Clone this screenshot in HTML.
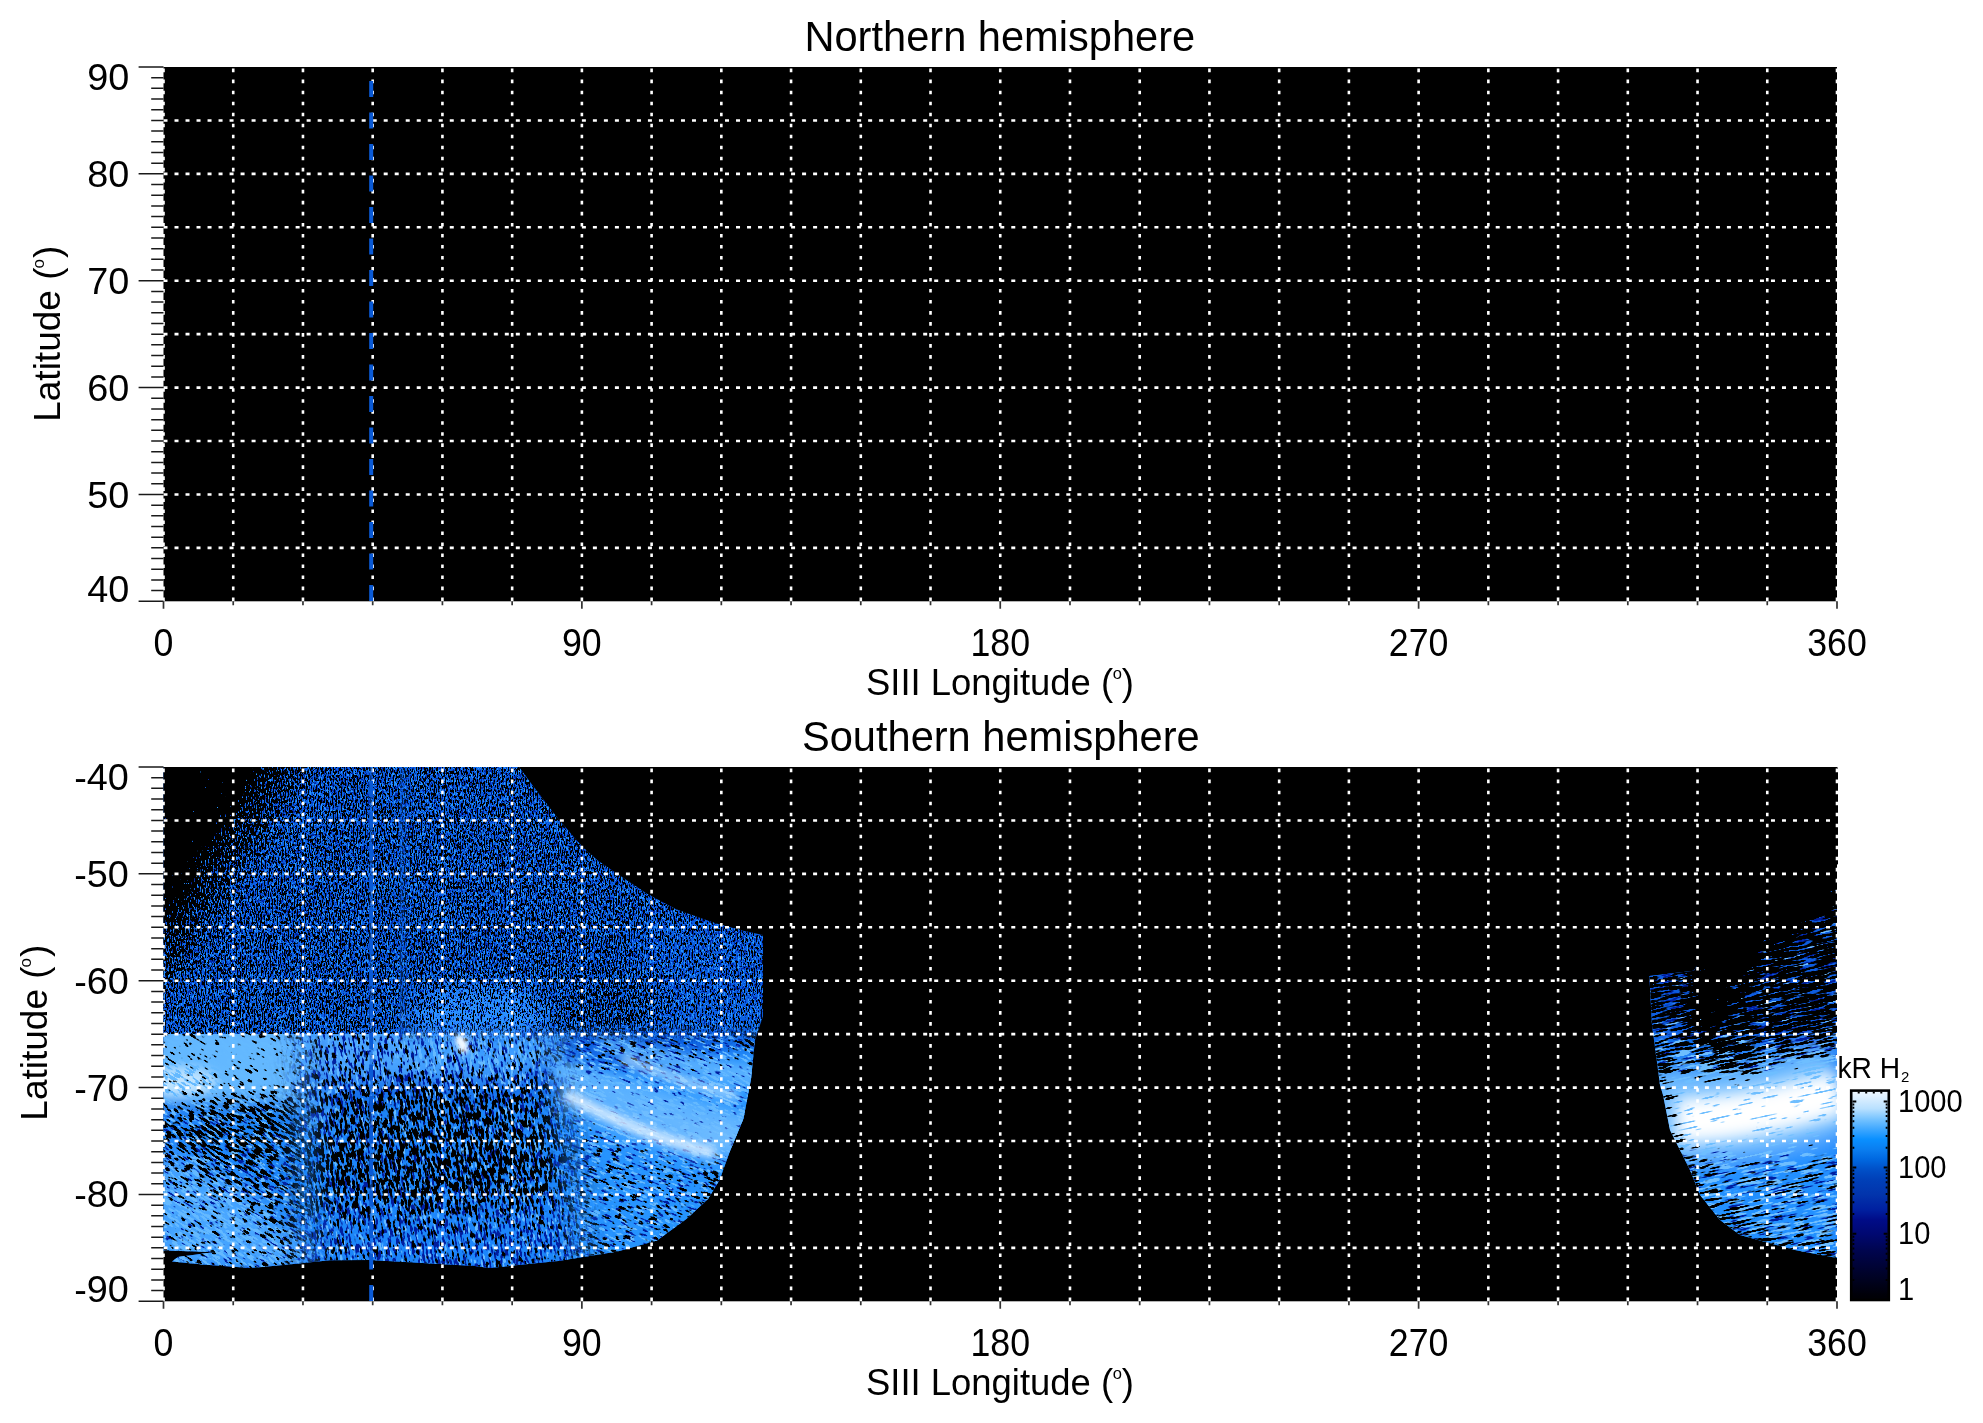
<!DOCTYPE html>
<html><head><meta charset="utf-8"><style>html,body{margin:0;padding:0;background:#fff;width:1983px;height:1423px;overflow:hidden;position:relative}</style></head>
<body>
<svg width="1983" height="1423" viewBox="0 0 1983 1423" style="position:absolute;left:0;top:0;will-change:transform">
<rect x="0" y="0" width="1983" height="1423" fill="#fff"/>
<rect x="163.5" y="67.0" width="1673.5" height="534.3" fill="#000"/>

<path d="M163.50 68.60V601.30M233.23 68.60V601.30M302.96 68.60V601.30M372.69 68.60V601.30M442.42 68.60V601.30M512.15 68.60V601.30M581.88 68.60V601.30M651.60 68.60V601.30M721.33 68.60V601.30M791.06 68.60V601.30M860.79 68.60V601.30M930.52 68.60V601.30M1000.25 68.60V601.30M1069.98 68.60V601.30M1139.71 68.60V601.30M1209.44 68.60V601.30M1279.17 68.60V601.30M1348.90 68.60V601.30M1418.62 68.60V601.30M1488.35 68.60V601.30M1558.08 68.60V601.30M1627.81 68.60V601.30M1697.54 68.60V601.30M1767.27 68.60V601.30M1837.00 68.60V601.30" stroke="#fff" stroke-width="2.6" stroke-dasharray="3.6 7.42" fill="none"/>
<path d="M163.50 120.43H1837.00M163.50 173.86H1837.00M163.50 227.29H1837.00M163.50 280.72H1837.00M163.50 334.15H1837.00M163.50 387.58H1837.00M163.50 441.01H1837.00M163.50 494.44H1837.00M163.50 547.87H1837.00" stroke="#fff" stroke-width="2.6" stroke-dasharray="4 7.01" fill="none"/>
<path d="M371.2 81.00V601.30" stroke="#0a5ad6" stroke-width="4" stroke-dasharray="16 15.5" fill="none"/>
<path d="M138.6 67.00H163.5M151.2 77.69H163.5M151.2 88.37H163.5M151.2 99.06H163.5M151.2 109.74H163.5M151.2 120.43H163.5M151.2 131.12H163.5M151.2 141.80H163.5M151.2 152.49H163.5M151.2 163.17H163.5M138.6 173.86H163.5M151.2 184.55H163.5M151.2 195.23H163.5M151.2 205.92H163.5M151.2 216.60H163.5M151.2 227.29H163.5M151.2 237.98H163.5M151.2 248.66H163.5M151.2 259.35H163.5M151.2 270.03H163.5M138.6 280.72H163.5M151.2 291.41H163.5M151.2 302.09H163.5M151.2 312.78H163.5M151.2 323.46H163.5M151.2 334.15H163.5M151.2 344.84H163.5M151.2 355.52H163.5M151.2 366.21H163.5M151.2 376.89H163.5M138.6 387.58H163.5M151.2 398.27H163.5M151.2 408.95H163.5M151.2 419.64H163.5M151.2 430.32H163.5M151.2 441.01H163.5M151.2 451.70H163.5M151.2 462.38H163.5M151.2 473.07H163.5M151.2 483.75H163.5M138.6 494.44H163.5M151.2 505.13H163.5M151.2 515.81H163.5M151.2 526.50H163.5M151.2 537.18H163.5M151.2 547.87H163.5M151.2 558.56H163.5M151.2 569.24H163.5M151.2 579.93H163.5M151.2 590.61H163.5M138.6 601.30H163.5" stroke="#1a1a1a" stroke-width="1.5" fill="none"/>
<path d="M163.50 601.30V608.80M233.23 601.30V605.30M302.96 601.30V605.30M372.69 601.30V605.30M442.42 601.30V605.30M512.15 601.30V605.30M581.88 601.30V608.80M651.60 601.30V605.30M721.33 601.30V605.30M791.06 601.30V605.30M860.79 601.30V605.30M930.52 601.30V605.30M1000.25 601.30V608.80M1069.98 601.30V605.30M1139.71 601.30V605.30M1209.44 601.30V605.30M1279.17 601.30V605.30M1348.90 601.30V605.30M1418.62 601.30V608.80M1488.35 601.30V605.30M1558.08 601.30V605.30M1627.81 601.30V605.30M1697.54 601.30V605.30M1767.27 601.30V605.30M1837.00 601.30V608.80" stroke="#333" stroke-width="1.7" fill="none"/>
<rect x="163.5" y="767.0" width="1673.5" height="534.3" fill="#000"/>
<defs>
<clipPath id="cL"><path d="M163.5 767.0 L519.0 767.0 L538.7 793.5 L558.4 819.0 L582.0 846.6 L597.8 860.4 L617.5 874.0 L647.0 893.8 L676.5 909.6 L716.0 923.4 L745.4 931.3 L763.0 935.0 L763.0 1016.0 L755.0 1040.0 L751.0 1079.0 L743.5 1118.6 L729.6 1152.0 L719.8 1179.6 L708.0 1199.0 L686.4 1219.0 L657.0 1240.6 L617.5 1251.4 L558.4 1261.0 L489.5 1268.0 L475.0 1266.0 L370.0 1260.0 L330.0 1260.3 L288.6 1264.6 L250.0 1268.0 L203.0 1264.6 L172.0 1261.5 L178.0 1257.0 L215.0 1252.0 L163.5 1250.5Z"/></clipPath>
<clipPath id="cR"><path d="M1649.4 976.0 L1694.0 970.8 L1700.0 960.0 L1837.0 860.0 L1837.0 1258.0 L1795.0 1250.0 L1740.0 1235.0 L1720.0 1220.0 L1700.0 1195.0 L1690.0 1170.0 L1680.0 1150.0 L1670.0 1130.0 L1663.0 1095.0 L1660.0 1085.0 L1652.0 1025.0Z"/></clipPath>
<clipPath id="cLo"><rect x="150" y="1034" width="620" height="240"/></clipPath>
<mask id="mUp" maskUnits="userSpaceOnUse" x="100" y="700" width="720" height="620"><rect x="150" y="740" width="250" height="294" fill="#fff"/><path d="M400 740 L770 740 L770 1034 L400 1034Z" fill="#fff" filter="url(#b6)"/></mask>
<mask id="mLo" maskUnits="userSpaceOnUse" x="100" y="700" width="720" height="620"><rect x="100" y="700" width="720" height="620" fill="#fff"/><rect x="150" y="740" width="250" height="294" fill="#000"/><path d="M400 740 L770 740 L770 1034 L400 1034Z" fill="#000" filter="url(#b6)"/></mask>
<mask id="mLL" maskUnits="userSpaceOnUse" x="100" y="700" width="720" height="620"><path d="M100 1000 L300 1000 L310 1300 L100 1300Z" fill="#fff" filter="url(#b15)"/></mask>
<mask id="mLC" maskUnits="userSpaceOnUse" x="100" y="700" width="720" height="620"><path d="M300 1000 L550 1000 L590 1300 L310 1300Z" fill="#fff" filter="url(#b15)"/></mask>
<mask id="mLR" maskUnits="userSpaceOnUse" x="100" y="700" width="720" height="620"><path d="M550 1000 L820 1000 L820 1300 L590 1300Z" fill="#fff" filter="url(#b15)"/></mask>
<filter id="b2" filterUnits="userSpaceOnUse" x="0" y="0" width="1983" height="1423"><feGaussianBlur stdDeviation="2"/></filter>
<filter id="b3" filterUnits="userSpaceOnUse" x="0" y="0" width="1983" height="1423"><feGaussianBlur stdDeviation="3"/></filter>
<filter id="b4" filterUnits="userSpaceOnUse" x="0" y="0" width="1983" height="1423"><feGaussianBlur stdDeviation="4"/></filter>
<filter id="b6" filterUnits="userSpaceOnUse" x="0" y="0" width="1983" height="1423"><feGaussianBlur stdDeviation="6"/></filter>
<filter id="b8" filterUnits="userSpaceOnUse" x="0" y="0" width="1983" height="1423"><feGaussianBlur stdDeviation="8"/></filter>
<filter id="b10" filterUnits="userSpaceOnUse" x="0" y="0" width="1983" height="1423"><feGaussianBlur stdDeviation="10"/></filter>
<filter id="b12" filterUnits="userSpaceOnUse" x="0" y="0" width="1983" height="1423"><feGaussianBlur stdDeviation="12"/></filter>
<filter id="b15" filterUnits="userSpaceOnUse" x="0" y="0" width="1983" height="1423"><feGaussianBlur stdDeviation="15"/></filter>
<filter id="b20" filterUnits="userSpaceOnUse" x="0" y="0" width="1983" height="1423"><feGaussianBlur stdDeviation="20"/></filter>
<filter id="b25" filterUnits="userSpaceOnUse" x="0" y="0" width="1983" height="1423"><feGaussianBlur stdDeviation="25"/></filter>
<filter id="spU" filterUnits="userSpaceOnUse" x="150" y="760" width="620" height="520" color-interpolation-filters="sRGB"><feTurbulence type="fractalNoise" baseFrequency="0.75 0.28" numOctaves="2" seed="3" result="t"/><feColorMatrix in="t" type="matrix" values="1 0 0 0 0  1 0 0 0 0  1 0 0 0 0  0 0 0 0 1" result="n"/><feComposite in="n" in2="SourceGraphic" operator="arithmetic" k1="0" k2="1" k3="-1" k4="1" result="d"/><feColorMatrix in="d" type="matrix" values="0 0 0 0 0.000  0 0 0 0 0.000  0 0 0 0 0.000  -30.00 0 0 0 30.00"/></filter>
<filter id="nvU" filterUnits="userSpaceOnUse" x="150" y="760" width="620" height="520" color-interpolation-filters="sRGB"><feTurbulence type="fractalNoise" baseFrequency="0.7 0.3" numOctaves="2" seed="21" result="t"/><feColorMatrix in="t" type="matrix" values="1 0 0 0 0  1 0 0 0 0  1 0 0 0 0  0 0 0 0 1" result="n"/><feComposite in="n" in2="SourceGraphic" operator="arithmetic" k1="0" k2="1" k3="-1" k4="1" result="d"/><feColorMatrix in="d" type="matrix" values="0 0 0 0 0.000  0 0 0 0 0.157  0 0 0 0 0.667  -25.50 0 0 0 25.50"/></filter>
<filter id="hlU" filterUnits="userSpaceOnUse" x="150" y="760" width="620" height="520" color-interpolation-filters="sRGB"><feTurbulence type="fractalNoise" baseFrequency="0.7 0.3" numOctaves="2" seed="33" result="t"/><feColorMatrix in="t" type="matrix" values="1 0 0 0 0  1 0 0 0 0  1 0 0 0 0  0 0 0 0 1" result="n"/><feComposite in="n" in2="SourceGraphic" operator="arithmetic" k1="0" k2="1" k3="-1" k4="1" result="d"/><feColorMatrix in="d" type="matrix" values="0 0 0 0 0.157  0 0 0 0 0.588  0 0 0 0 1.000  -25.50 0 0 0 25.50"/></filter>
<filter id="spS" filterUnits="userSpaceOnUse" x="-400" y="400" width="1600" height="1300" color-interpolation-filters="sRGB"><feTurbulence type="fractalNoise" baseFrequency="0.12 0.4" numOctaves="2" seed="5" result="t"/><feColorMatrix in="t" type="matrix" values="1 0 0 0 0  1 0 0 0 0  1 0 0 0 0  0 0 0 0 1" result="n"/><feComposite in="n" in2="SourceGraphic" operator="arithmetic" k1="0" k2="1" k3="-1" k4="1" result="d"/><feColorMatrix in="d" type="matrix" values="0 0 0 0 0.000  0 0 0 0 0.000  0 0 0 0 0.000  -30.00 0 0 0 30.00"/></filter>
<filter id="nvS" filterUnits="userSpaceOnUse" x="-400" y="400" width="1600" height="1300" color-interpolation-filters="sRGB"><feTurbulence type="fractalNoise" baseFrequency="0.1 0.5" numOctaves="2" seed="23" result="t"/><feColorMatrix in="t" type="matrix" values="1 0 0 0 0  1 0 0 0 0  1 0 0 0 0  0 0 0 0 1" result="n"/><feComposite in="n" in2="SourceGraphic" operator="arithmetic" k1="0" k2="1" k3="-1" k4="1" result="d"/><feColorMatrix in="d" type="matrix" values="0 0 0 0 0.000  0 0 0 0 0.118  0 0 0 0 0.627  -21.00 0 0 0 21.00"/></filter>
<filter id="hlS" filterUnits="userSpaceOnUse" x="-400" y="400" width="1600" height="1300" color-interpolation-filters="sRGB"><feTurbulence type="fractalNoise" baseFrequency="0.1 0.45" numOctaves="2" seed="35" result="t"/><feColorMatrix in="t" type="matrix" values="1 0 0 0 0  1 0 0 0 0  1 0 0 0 0  0 0 0 0 1" result="n"/><feComposite in="n" in2="SourceGraphic" operator="arithmetic" k1="0" k2="1" k3="-1" k4="1" result="d"/><feColorMatrix in="d" type="matrix" values="0 0 0 0 0.392  0 0 0 0 0.725  0 0 0 0 1.000  -22.50 0 0 0 22.50"/></filter>
<filter id="spR" filterUnits="userSpaceOnUse" x="1500" y="800" width="500" height="550" color-interpolation-filters="sRGB"><feTurbulence type="fractalNoise" baseFrequency="0.05 0.5" numOctaves="2" seed="7" result="t"/><feColorMatrix in="t" type="matrix" values="1 0 0 0 0  1 0 0 0 0  1 0 0 0 0  0 0 0 0 1" result="n"/><feComposite in="n" in2="SourceGraphic" operator="arithmetic" k1="0" k2="1" k3="-1" k4="1" result="d"/><feColorMatrix in="d" type="matrix" values="0 0 0 0 0.000  0 0 0 0 0.000  0 0 0 0 0.000  -30.00 0 0 0 30.00"/></filter>
<filter id="nvR" filterUnits="userSpaceOnUse" x="1500" y="800" width="500" height="550" color-interpolation-filters="sRGB"><feTurbulence type="fractalNoise" baseFrequency="0.05 0.55" numOctaves="2" seed="17" result="t"/><feColorMatrix in="t" type="matrix" values="1 0 0 0 0  1 0 0 0 0  1 0 0 0 0  0 0 0 0 1" result="n"/><feComposite in="n" in2="SourceGraphic" operator="arithmetic" k1="0" k2="1" k3="-1" k4="1" result="d"/><feColorMatrix in="d" type="matrix" values="0 0 0 0 0.000  0 0 0 0 0.118  0 0 0 0 0.627  -18.00 0 0 0 18.00"/></filter>
<filter id="hlR" filterUnits="userSpaceOnUse" x="1500" y="800" width="500" height="550" color-interpolation-filters="sRGB"><feTurbulence type="fractalNoise" baseFrequency="0.05 0.5" numOctaves="2" seed="27" result="t"/><feColorMatrix in="t" type="matrix" values="1 0 0 0 0  1 0 0 0 0  1 0 0 0 0  0 0 0 0 1" result="n"/><feComposite in="n" in2="SourceGraphic" operator="arithmetic" k1="0" k2="1" k3="-1" k4="1" result="d"/><feColorMatrix in="d" type="matrix" values="0 0 0 0 0.431  0 0 0 0 0.745  0 0 0 0 1.000  -21.00 0 0 0 21.00"/></filter>
</defs>
<g clip-path="url(#cL)">
<rect x="150" y="760" width="620" height="520" fill="#0c60e2"/>
<g filter="url(#b12)">
<path d="M150 1110 L560 1090 L770 1050 L770 1280 L150 1280Z" fill="#1e86fa"/>
<path d="M555 1060 Q640 1080 770 1040 L770 1270 L560 1270 Q610 1160 555 1060Z" fill="#2894ff"/>
<path d="M150 1150 Q250 1175 320 1268 L150 1268Z" fill="#44a4ff"/>
</g>
<g clip-path="url(#cLo)"><g filter="url(#b10)">
<rect x="150" y="1020" width="150" height="84" fill="#64b8ff"/>
<rect x="290" y="1020" width="200" height="62" fill="#48a4ff"/>
<ellipse cx="490" cy="1040" rx="80" ry="40" fill="#40a0ff"/>
<ellipse cx="318" cy="1112" rx="14" ry="26" fill="#40a0ff"/>
</g></g>
<g filter="url(#b10)">
<ellipse cx="480" cy="1015" rx="70" ry="30" fill="#2a8cff"/>
</g>
<g filter="url(#b6)">
<ellipse cx="178" cy="1082" rx="40" ry="15" fill="#c0e4ff"/>
<ellipse cx="462" cy="1043" rx="5" ry="9" fill="#f0f8ff"/>
<path d="M552 1078 Q640 1118 760 1165 L760 1118 Q640 1082 552 1056Z" fill="#58b0ff"/>
<path d="M600 1048 Q680 1074 760 1090 L760 1066 Q680 1056 600 1036Z" fill="#58b0ff"/>
<path d="M150 1185 Q230 1195 290 1250 L270 1262 Q220 1215 150 1210Z" fill="#4aa6ff"/>
</g>
<g mask="url(#mUp)">
<g><g filter="url(#nvU)">
<rect x="150" y="760" width="620" height="520" fill="rgb(117,117,117)"/>
<g><g filter="url(#b10)">
<path d="M150 1000 L770 1000 L770 1040 L150 1040Z" fill="rgb(106,106,106)"/>
<ellipse cx="480" cy="1018" rx="70" ry="28" fill="rgb(104,104,104)"/>
</g></g></g></g>
<g><g filter="url(#hlU)">
<rect x="150" y="760" width="620" height="520" fill="rgb(106,106,106)"/>
<g><g filter="url(#b10)">

</g></g></g></g>
<g><g filter="url(#spU)">
<rect x="150" y="760" width="620" height="520" fill="rgb(124,124,124)"/>
<g><g filter="url(#b12)">
<path d="M130 740 L320 740 L164 990 L130 990Z" fill="rgb(149,149,149)"/>
<path d="M130 740 L272 740 L164 915 L130 915Z" fill="rgb(221,221,221)"/>
<path d="M130 700 L240 700 L130 880Z" fill="rgb(221,221,221)"/>
<path d="M640 910 L770 930 L770 1050 L650 1055Z" fill="rgb(113,113,113)"/>
<ellipse cx="480" cy="1018" rx="70" ry="28" fill="rgb(108,108,108)"/>
<path d="M560 980 L660 980 L660 1034 L560 1034Z" fill="rgb(131,131,131)"/>
</g></g></g></g>
</g>
<g mask="url(#mLo)">
<g mask="url(#mLL)"><g transform="rotate(32 230 1150)">
<g><g filter="url(#nvS)">
<rect x="-400" y="400" width="1600" height="1300" fill="rgb(95,95,95)"/>
<g transform="rotate(-32 230 1150)"><g filter="url(#b10)">
<rect x="150" y="1030" width="150" height="74" fill="rgb(0,0,0)"/>
<path d="M150 1170 Q240 1195 300 1268 L150 1268Z" fill="rgb(85,85,85)"/>
</g></g></g></g>
<g><g filter="url(#hlS)">
<rect x="-400" y="400" width="1600" height="1300" fill="rgb(101,101,101)"/>
<g transform="rotate(-32 230 1150)"><g filter="url(#b10)">
<rect x="150" y="1030" width="150" height="74" fill="rgb(119,119,119)"/>
<path d="M150 1150 Q240 1180 300 1268 L150 1268Z" fill="rgb(119,119,119)"/>
</g></g></g></g>
<g><g filter="url(#spS)">
<rect x="-400" y="400" width="1600" height="1300" fill="rgb(108,108,108)"/>
<g transform="rotate(-32 230 1150)"><g filter="url(#b12)">
<rect x="150" y="1030" width="150" height="74" fill="rgb(80,80,80)"/>
<path d="M150 1165 Q240 1195 300 1268 L150 1268Z" fill="rgb(83,83,83)"/>
<ellipse cx="250" cy="1130" rx="70" ry="35" fill="rgb(124,124,124)"/>
</g></g></g></g>
</g></g>
<g mask="url(#mLC)"><g transform="rotate(80 430 1150)">
<g><g filter="url(#nvS)">
<rect x="-400" y="400" width="1600" height="1300" fill="rgb(106,106,106)"/>
<g transform="rotate(-80 430 1150)"><g filter="url(#b10)">
<path d="M290 1215 L600 1215 L600 1270 L290 1270Z" fill="rgb(117,117,117)"/>
</g></g></g></g>
<g><g filter="url(#hlS)">
<rect x="-400" y="400" width="1600" height="1300" fill="rgb(92,92,92)"/>
<g transform="rotate(-80 430 1150)"><g filter="url(#b10)">
<ellipse cx="480" cy="1040" rx="90" ry="40" fill="rgb(106,106,106)"/>
</g></g></g></g>
<g><g filter="url(#spS)">
<rect x="-400" y="400" width="1600" height="1300" fill="rgb(117,117,117)"/>
<g transform="rotate(-80 430 1150)"><g filter="url(#b12)">
<path d="M250 990 L600 990 L600 1080 L250 1080Z" fill="rgb(92,92,92)"/>
<ellipse cx="480" cy="1045" rx="80" ry="35" fill="rgb(85,85,85)"/>
<ellipse cx="425" cy="1155" rx="125" ry="55" fill="rgb(127,127,127)"/>
<path d="M290 1215 L600 1215 L600 1270 L290 1270Z" fill="rgb(92,92,92)"/>
<ellipse cx="318" cy="1112" rx="14" ry="26" fill="rgb(95,95,95)"/>
</g></g></g></g>
</g></g>
<g mask="url(#mLR)"><g transform="rotate(22 660 1150)">
<g><g filter="url(#nvS)">
<rect x="-400" y="400" width="1600" height="1300" fill="rgb(93,93,93)"/>
<g transform="rotate(-22 660 1150)"><g filter="url(#b10)">
<path d="M560 1070 Q640 1095 770 1060 L770 1170 Q640 1150 560 1100Z" fill="rgb(80,80,80)"/>
</g></g></g></g>
<g><g filter="url(#hlS)">
<rect x="-400" y="400" width="1600" height="1300" fill="rgb(101,101,101)"/>
<g transform="rotate(-22 660 1150)"><g filter="url(#b10)">
<path d="M560 1070 Q640 1095 770 1060 L770 1170 Q640 1150 560 1100Z" fill="rgb(111,111,111)"/>
</g></g></g></g>
<g><g filter="url(#spS)">
<rect x="-400" y="400" width="1600" height="1300" fill="rgb(90,90,90)"/>
<g transform="rotate(-22 660 1150)"><g filter="url(#b12)">
<path d="M770 1010 L755 1040 L751 1079 L743.5 1118.6 L729.6 1152 L719.8 1179.6 L708 1199 L686.4 1219 L657 1240.6 L617.5 1251.4 L558.4 1261" stroke="rgb(127,127,127)" stroke-width="22" fill="none"/>
<path d="M560 1070 Q640 1095 770 1060 L770 1170 Q640 1150 560 1100Z" fill="rgb(0,0,0)"/>
<path d="M600 1200 L770 1200 L770 1270 L600 1270Z" fill="rgb(92,92,92)"/>
</g></g></g></g>
</g></g>
</g>
<g filter="url(#b10)" opacity="0.55">
<path d="M555 1075 Q650 1120 745 1125 L735 1160 Q640 1150 560 1105Z" fill="#80c4ff"/>
</g>
<ellipse cx="462" cy="1044" rx="4.5" ry="10" fill="#f4faff" filter="url(#b2)" transform="rotate(-25 462 1044)"/>
<g filter="url(#b4)" opacity="0.9">
<path d="M566 1094 Q640 1136 715 1153" stroke="#f0f8ff" stroke-width="10" fill="none"/>
<path d="M622 1058 Q680 1082 738 1097" stroke="#c4e6ff" stroke-width="7" fill="none"/>
</g>
</g>
<g clip-path="url(#cR)">
<rect x="1640" y="880" width="200" height="390" fill="#1a7ef6"/>
<g filter="url(#b10)">
<path d="M1640 880 L1840 880 L1840 1040 L1640 1040Z" fill="#0d5ce0"/>
<path d="M1640 1150 L1840 1130 L1840 1270 L1640 1270Z" fill="#2290ff"/>
<path d="M1650 1112 Q1750 1122 1840 1085" stroke="#70bcff" stroke-width="90" fill="none"/>
</g>
<g filter="url(#b8)">
<path d="M1676 1120 Q1750 1120 1840 1092" stroke="#ffffff" stroke-width="46" fill="none"/>
</g>
<g transform="rotate(-12 1740 1075)">
<g><g filter="url(#nvR)">
<rect x="1500" y="800" width="500" height="550" fill="rgb(106,106,106)"/>
<g transform="rotate(12 1740 1075)"><g filter="url(#b10)">
<path d="M1640 1070 Q1740 1095 1850 1055 L1850 1150 Q1740 1170 1640 1150Z" fill="rgb(0,0,0)"/>
<path d="M1640 1150 L1850 1150 L1850 1270 L1640 1270Z" fill="rgb(97,97,97)"/>
</g></g></g></g>
<g><g filter="url(#hlR)">
<rect x="1500" y="800" width="500" height="550" fill="rgb(87,87,87)"/>
<g transform="rotate(12 1740 1075)"><g filter="url(#b10)">
<path d="M1640 1150 L1850 1150 L1850 1270 L1640 1270Z" fill="rgb(111,111,111)"/>
<path d="M1640 1040 L1850 1040 L1850 1080 L1640 1080Z" fill="rgb(115,115,115)"/>
</g></g></g></g>
<g><g filter="url(#spR)">
<rect x="1500" y="800" width="500" height="550" fill="rgb(111,111,111)"/>
<g transform="rotate(12 1740 1075)"><g filter="url(#b10)">
<path d="M1690 850 L1850 850 L1850 905 L1745 990 L1700 1035 L1690 1035Z" fill="rgb(221,221,221)"/>
<path d="M1745 960 L1850 880 L1850 1040 L1705 1040Z" fill="rgb(143,143,143)"/>
<path d="M1640 960 L1698 960 L1698 1030 L1640 1030Z" fill="rgb(134,134,134)"/>
<path d="M1700 1030 L1760 1030 L1760 1075 L1700 1075Z" fill="rgb(138,138,138)"/>
<path d="M1640 1070 Q1740 1095 1850 1055 L1850 1150 Q1740 1170 1640 1150Z" fill="rgb(0,0,0)"/>
<path d="M1640 1150 L1850 1150 L1850 1270 L1640 1270Z" fill="rgb(90,90,90)"/>
<path d="M1652 1025 L1660 1085 L1670 1130 L1680 1150 L1690 1170 L1700 1195 L1720 1220 L1740 1235 L1795 1250 L1840 1258" stroke="rgb(131,131,131)" stroke-width="18" fill="none"/>
</g></g></g></g>
</g>
</g>
<path d="M1690 970 L1700 964 L1838 864 L1838 767.5 L1690 767.5Z" fill="#000"/>
<path d="M163.50 768.60V1301.30M233.23 768.60V1301.30M302.96 768.60V1301.30M372.69 768.60V1301.30M442.42 768.60V1301.30M512.15 768.60V1301.30M581.88 768.60V1301.30M651.60 768.60V1301.30M721.33 768.60V1301.30M791.06 768.60V1301.30M860.79 768.60V1301.30M930.52 768.60V1301.30M1000.25 768.60V1301.30M1069.98 768.60V1301.30M1139.71 768.60V1301.30M1209.44 768.60V1301.30M1279.17 768.60V1301.30M1348.90 768.60V1301.30M1418.62 768.60V1301.30M1488.35 768.60V1301.30M1558.08 768.60V1301.30M1627.81 768.60V1301.30M1697.54 768.60V1301.30M1767.27 768.60V1301.30M1837.00 768.60V1301.30" stroke="#fff" stroke-width="2.6" stroke-dasharray="3.6 7.42" fill="none"/>
<path d="M163.50 820.43H1837.00M163.50 873.86H1837.00M163.50 927.29H1837.00M163.50 980.72H1837.00M163.50 1034.15H1837.00M163.50 1087.58H1837.00M163.50 1141.01H1837.00M163.50 1194.44H1837.00M163.50 1247.87H1837.00" stroke="#fff" stroke-width="2.6" stroke-dasharray="4 7.01" fill="none"/>
<path d="M371.2 767V1262" stroke="#1466e0" stroke-width="3" fill="none" opacity="0.55"/>
<path d="M371.2 781.00V1301.30" stroke="#0a5ad6" stroke-width="4" stroke-dasharray="16 15.5" fill="none"/>
<path d="M138.6 767.00H163.5M151.2 777.69H163.5M151.2 788.37H163.5M151.2 799.06H163.5M151.2 809.74H163.5M151.2 820.43H163.5M151.2 831.12H163.5M151.2 841.80H163.5M151.2 852.49H163.5M151.2 863.17H163.5M138.6 873.86H163.5M151.2 884.55H163.5M151.2 895.23H163.5M151.2 905.92H163.5M151.2 916.60H163.5M151.2 927.29H163.5M151.2 937.98H163.5M151.2 948.66H163.5M151.2 959.35H163.5M151.2 970.03H163.5M138.6 980.72H163.5M151.2 991.41H163.5M151.2 1002.09H163.5M151.2 1012.78H163.5M151.2 1023.46H163.5M151.2 1034.15H163.5M151.2 1044.84H163.5M151.2 1055.52H163.5M151.2 1066.21H163.5M151.2 1076.89H163.5M138.6 1087.58H163.5M151.2 1098.27H163.5M151.2 1108.95H163.5M151.2 1119.64H163.5M151.2 1130.32H163.5M151.2 1141.01H163.5M151.2 1151.70H163.5M151.2 1162.38H163.5M151.2 1173.07H163.5M151.2 1183.75H163.5M138.6 1194.44H163.5M151.2 1205.13H163.5M151.2 1215.81H163.5M151.2 1226.50H163.5M151.2 1237.18H163.5M151.2 1247.87H163.5M151.2 1258.56H163.5M151.2 1269.24H163.5M151.2 1279.93H163.5M151.2 1290.61H163.5M138.6 1301.30H163.5" stroke="#1a1a1a" stroke-width="1.5" fill="none"/>
<path d="M163.50 1301.30V1308.80M233.23 1301.30V1305.30M302.96 1301.30V1305.30M372.69 1301.30V1305.30M442.42 1301.30V1305.30M512.15 1301.30V1305.30M581.88 1301.30V1308.80M651.60 1301.30V1305.30M721.33 1301.30V1305.30M791.06 1301.30V1305.30M860.79 1301.30V1305.30M930.52 1301.30V1305.30M1000.25 1301.30V1308.80M1069.98 1301.30V1305.30M1139.71 1301.30V1305.30M1209.44 1301.30V1305.30M1279.17 1301.30V1305.30M1348.90 1301.30V1305.30M1418.62 1301.30V1308.80M1488.35 1301.30V1305.30M1558.08 1301.30V1305.30M1627.81 1301.30V1305.30M1697.54 1301.30V1305.30M1767.27 1301.30V1305.30M1837.00 1301.30V1308.80" stroke="#333" stroke-width="1.7" fill="none"/>
<text x="999.8" y="51" font-size="41.6" text-anchor="middle" font-family="Liberation Sans, sans-serif" >Northern hemisphere</text>
<text x="1000.8" y="751" font-size="41.6" text-anchor="middle" font-family="Liberation Sans, sans-serif" >Southern hemisphere</text>
<text x="163.50" y="655.8" font-size="38" text-anchor="middle" font-family="Liberation Sans, sans-serif" transform="translate(163.50 0) scale(0.94 1) translate(-163.50 0)">0</text>
<text x="581.88" y="655.8" font-size="38" text-anchor="middle" font-family="Liberation Sans, sans-serif" transform="translate(581.88 0) scale(0.94 1) translate(-581.88 0)">90</text>
<text x="1000.25" y="655.8" font-size="38" text-anchor="middle" font-family="Liberation Sans, sans-serif" transform="translate(1000.25 0) scale(0.94 1) translate(-1000.25 0)">180</text>
<text x="1418.62" y="655.8" font-size="38" text-anchor="middle" font-family="Liberation Sans, sans-serif" transform="translate(1418.62 0) scale(0.94 1) translate(-1418.62 0)">270</text>
<text x="1837.00" y="655.8" font-size="38" text-anchor="middle" font-family="Liberation Sans, sans-serif" transform="translate(1837.00 0) scale(0.94 1) translate(-1837.00 0)">360</text>
<text x="866" y="695.3" font-size="37.5" font-family="Liberation Sans, sans-serif" transform="translate(866 0) scale(0.972 1) translate(-866 0)">SIII Longitude (<tspan font-size="17" dy="-16" dx="-0.5">o</tspan><tspan dy="16" dx="0">)</tspan></text>
<text x="163.50" y="1355.8" font-size="38" text-anchor="middle" font-family="Liberation Sans, sans-serif" transform="translate(163.50 0) scale(0.94 1) translate(-163.50 0)">0</text>
<text x="581.88" y="1355.8" font-size="38" text-anchor="middle" font-family="Liberation Sans, sans-serif" transform="translate(581.88 0) scale(0.94 1) translate(-581.88 0)">90</text>
<text x="1000.25" y="1355.8" font-size="38" text-anchor="middle" font-family="Liberation Sans, sans-serif" transform="translate(1000.25 0) scale(0.94 1) translate(-1000.25 0)">180</text>
<text x="1418.62" y="1355.8" font-size="38" text-anchor="middle" font-family="Liberation Sans, sans-serif" transform="translate(1418.62 0) scale(0.94 1) translate(-1418.62 0)">270</text>
<text x="1837.00" y="1355.8" font-size="38" text-anchor="middle" font-family="Liberation Sans, sans-serif" transform="translate(1837.00 0) scale(0.94 1) translate(-1837.00 0)">360</text>
<text x="866" y="1395.3" font-size="37.5" font-family="Liberation Sans, sans-serif" transform="translate(866 0) scale(0.972 1) translate(-866 0)">SIII Longitude (<tspan font-size="17" dy="-16" dx="-0.5">o</tspan><tspan dy="16" dx="0">)</tspan></text>
<text x="129.2" y="89.8" font-size="37.8" text-anchor="end" font-family="Liberation Sans, sans-serif" >90</text>
<text x="129.2" y="187" font-size="37.8" text-anchor="end" font-family="Liberation Sans, sans-serif" >80</text>
<text x="129.2" y="294" font-size="37.8" text-anchor="end" font-family="Liberation Sans, sans-serif" >70</text>
<text x="129.2" y="401" font-size="37.8" text-anchor="end" font-family="Liberation Sans, sans-serif" >60</text>
<text x="129.2" y="507.7" font-size="37.8" text-anchor="end" font-family="Liberation Sans, sans-serif" >50</text>
<text x="129.2" y="601.5" font-size="37.8" text-anchor="end" font-family="Liberation Sans, sans-serif" >40</text>
<text x="128.8" y="789.5" font-size="37.8" text-anchor="end" font-family="Liberation Sans, sans-serif" >-40</text>
<text x="128.8" y="886.7" font-size="37.8" text-anchor="end" font-family="Liberation Sans, sans-serif" >-50</text>
<text x="128.8" y="994" font-size="37.8" text-anchor="end" font-family="Liberation Sans, sans-serif" >-60</text>
<text x="128.8" y="1101" font-size="37.8" text-anchor="end" font-family="Liberation Sans, sans-serif" >-70</text>
<text x="128.8" y="1207" font-size="37.8" text-anchor="end" font-family="Liberation Sans, sans-serif" >-80</text>
<text x="128.8" y="1301.5" font-size="37.8" text-anchor="end" font-family="Liberation Sans, sans-serif" >-90</text>
<text transform="translate(60.1 421.8) rotate(-90)" x="0" y="0" font-size="37" font-family="Liberation Sans, sans-serif">Latitude (<tspan font-size="17" dy="-16" dx="-1">o</tspan><tspan dy="16" dx="1">)</tspan></text>
<text transform="translate(47.3 1120.7) rotate(-90)" x="0" y="0" font-size="37" font-family="Liberation Sans, sans-serif">Latitude (<tspan font-size="17" dy="-16" dx="-1">o</tspan><tspan dy="16" dx="1">)</tspan></text>
<defs><linearGradient id="cb" x1="0" y1="1" x2="0" y2="0"><stop offset="0" stop-color="#000004"/><stop offset="0.024" stop-color="#000008"/><stop offset="0.096" stop-color="#000220"/><stop offset="0.168" stop-color="#000338"/><stop offset="0.24" stop-color="#000550"/><stop offset="0.312" stop-color="#000870"/><stop offset="0.384" stop-color="#000c88"/><stop offset="0.432" stop-color="#0020a0"/><stop offset="0.504" stop-color="#0234ac"/><stop offset="0.576" stop-color="#0040b8"/><stop offset="0.624" stop-color="#0050c8"/><stop offset="0.672" stop-color="#0068e0"/><stop offset="0.72" stop-color="#0a7ef0"/><stop offset="0.768" stop-color="#0a90ff"/><stop offset="0.817" stop-color="#40a8ff"/><stop offset="0.865" stop-color="#78c4ff"/><stop offset="0.913" stop-color="#b8e0ff"/><stop offset="0.985" stop-color="#e8f4ff"/><stop offset="1" stop-color="#eef7ff"/></linearGradient></defs>
<rect x="1851.2" y="1090.6" width="37.6" height="209.4" fill="url(#cb)" stroke="#000" stroke-width="2.6"/>
<path d="M1852.5 1280.1h1.8M1887.5 1280.1h-1.8M1852.5 1268.4h1.8M1887.5 1268.4h-1.8M1852.5 1260.1h1.8M1887.5 1260.1h-1.8M1852.5 1253.7h1.8M1887.5 1253.7h-1.8M1852.5 1248.5h1.8M1887.5 1248.5h-1.8M1852.5 1244.1h1.8M1887.5 1244.1h-1.8M1852.5 1240.2h1.8M1887.5 1240.2h-1.8M1852.5 1236.8h1.8M1887.5 1236.8h-1.8M1852.5 1233.8h3.8M1887.5 1233.8h-3.8M1852.5 1213.9h1.8M1887.5 1213.9h-1.8M1852.5 1202.2h1.8M1887.5 1202.2h-1.8M1852.5 1193.9h1.8M1887.5 1193.9h-1.8M1852.5 1187.5h1.8M1887.5 1187.5h-1.8M1852.5 1182.3h1.8M1887.5 1182.3h-1.8M1852.5 1177.9h1.8M1887.5 1177.9h-1.8M1852.5 1174.0h1.8M1887.5 1174.0h-1.8M1852.5 1170.6h1.8M1887.5 1170.6h-1.8M1852.5 1167.6h3.8M1887.5 1167.6h-3.8M1852.5 1147.7h1.8M1887.5 1147.7h-1.8M1852.5 1136.0h1.8M1887.5 1136.0h-1.8M1852.5 1127.7h1.8M1887.5 1127.7h-1.8M1852.5 1121.3h1.8M1887.5 1121.3h-1.8M1852.5 1116.1h1.8M1887.5 1116.1h-1.8M1852.5 1111.7h1.8M1887.5 1111.7h-1.8M1852.5 1107.8h1.8M1887.5 1107.8h-1.8M1852.5 1104.4h1.8M1887.5 1104.4h-1.8M1852.5 1101.4h3.8M1887.5 1101.4h-3.8M1858.7 1091.8v1.8M1866.2 1091.8v1.8M1873.8 1091.8v1.8M1881.3 1091.8v1.8" stroke="#000" stroke-width="2" fill="none"/>
<text x="1898" y="1112.2" font-size="31.8" font-family="Liberation Sans, sans-serif" transform="translate(1898 0) scale(0.915 1) translate(-1898 0)">1000</text>
<text x="1898" y="1178.3" font-size="31.8" font-family="Liberation Sans, sans-serif" transform="translate(1898 0) scale(0.915 1) translate(-1898 0)">100</text>
<text x="1898" y="1244.3" font-size="31.8" font-family="Liberation Sans, sans-serif" transform="translate(1898 0) scale(0.915 1) translate(-1898 0)">10</text>
<text x="1898" y="1300.5" font-size="31.8" font-family="Liberation Sans, sans-serif" transform="translate(1898 0) scale(0.915 1) translate(-1898 0)">1</text>
<text x="1837.5" y="1077.8" font-size="29.2" font-family="Liberation Sans, sans-serif" transform="translate(1837.5 0) scale(0.965 1) translate(-1837.5 0)">kR H<tspan font-size="15.5" dy="3.8" dx="1">2</tspan></text>
</svg>
</body></html>
